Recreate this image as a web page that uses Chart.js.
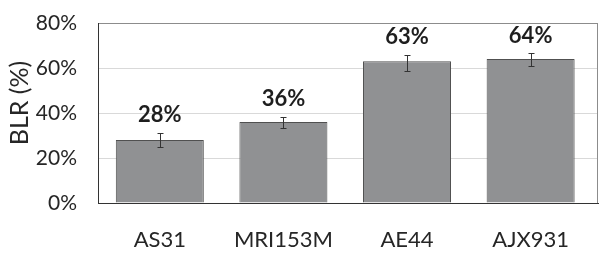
<!DOCTYPE html>
<html>
<head>
<meta charset="utf-8">
<script src="https://cdn.jsdelivr.net/npm/chart.js@4"></script>
<style>
html,body{margin:0;padding:0;background:#fff;}
#wrap{width:610px;height:267px;position:relative;}
</style>
</head>
<body>
<div id="wrap"><canvas id="c" width="610" height="267"></canvas></div>
<script>
const categories = ["AS31", "MRI153M", "AE44", "AJX931"];
const values = [28, 36, 63, 64];
const errLow = [25.0, 33.2, 58.5, 60.7];
const errHigh = [31.2, 38.4, 65.8, 66.6];
const yTicks = [0, 20, 40, 60, 80];
const yTitle = "BLR (%)";

const FONT = "Lato, 'Open Sans', sans-serif";

const errorBarPlugin = {
  id: 'errbars',
  afterDatasetsDraw(chart) {
    const ctx = chart.ctx;
    const xs = chart.scales.x, ys = chart.scales.y;
    ctx.save();
    ctx.strokeStyle = '#333';
    ctx.lineWidth = 1;
    categories.forEach((c, i) => {
      const x = Math.round(xs.getPixelForValue(i)) + 0.5;
      const yh = Math.round(ys.getPixelForValue(errHigh[i])) + 0.5;
      const yl = Math.round(ys.getPixelForValue(errLow[i])) + 0.5;
      ctx.beginPath();
      ctx.moveTo(x, yh); ctx.lineTo(x, yl);
      ctx.moveTo(x - 3, yh); ctx.lineTo(x + 3, yh);
      ctx.moveTo(x - 3, yl); ctx.lineTo(x + 3, yl);
      ctx.stroke();
      ctx.fillStyle = '#1e1e1e';
      ctx.font = "bold 22px " + FONT;
      ctx.textAlign = 'center';
      ctx.textBaseline = 'alphabetic';
      ctx.fillText(values[i] + '%', xs.getPixelForValue(i), ys.getPixelForValue(errHigh[i]) - 10.5);
    });
    ctx.restore();
  }
};

const frameAndTitlePlugin = {
  id: 'frameTitle',
  afterDraw(chart) {
    const a = chart.chartArea, ctx = chart.ctx;
    ctx.save();
    ctx.strokeStyle = '#8c8c8c';
    ctx.lineWidth = 1;
    ctx.beginPath();
    const x = Math.round(a.right) - 0.5;
    ctx.moveTo(x, a.top);
    ctx.lineTo(x, a.bottom);
    ctx.stroke();
    // y-axis title, placed as in the reference (slightly above the plot centre)
    ctx.translate(20, (a.top + a.bottom) / 2 - 10);
    ctx.rotate(-Math.PI / 2);
    ctx.fillStyle = '#262626';
    ctx.font = "25px " + FONT;
    ctx.textAlign = 'center';
    ctx.textBaseline = 'middle';
    ctx.fillText(yTitle, 0, 0);
    ctx.restore();
  }
};

new Chart(document.getElementById('c'), {
  type: 'bar',
  data: {
    datasets: [{
      data: values.map((v, i) => ({x: i, y: v})),
      backgroundColor: '#909193',
      borderColor: '#505050',
      borderWidth: 1,
      borderSkipped: 'bottom',
      categoryPercentage: 1,
      barPercentage: 0.712
    }]
  },
  options: {
    responsive: false,
    animation: false,
    devicePixelRatio: 1,
    layout: {autoPadding: false, padding: {top: 23, right: 12, bottom: 0, left: 0}},
    plugins: {legend: {display: false}, tooltip: {enabled: false}},
    scales: {
      x: {
        type: 'linear',
        offset: false,
        min: -0.5,
        max: 3.545,
        afterBuildTicks: s => { s.ticks = categories.map((c, i) => ({value: i})); },
        afterFit: s => { s.height = 64; s.paddingLeft = 0; s.paddingRight = 0; },
        grid: {display: false, drawTicks: false, offset: false},
        border: {display: true, color: '#333', width: 1},
        ticks: {
          padding: 24,
          autoSkip: false,
          maxRotation: 0,
          color: '#262626',
          font: {family: FONT, size: 22},
          callback: v => categories[v] !== undefined ? categories[v] : ''
        }
      },
      y: {
        min: 0,
        max: 80,
        afterBuildTicks: s => { s.ticks = yTicks.map(v => ({value: v})); },
        afterFit: s => { s.width = 98; s.paddingTop = 0; s.paddingBottom = 0; },
        grid: {
          drawTicks: false,
          color: ctx => ctx.tick && ctx.tick.value === 80 ? '#8c8c8c' : (ctx.tick && ctx.tick.value === 0 ? 'rgba(0,0,0,0)' : '#d9d9d9'),
          lineWidth: 1
        },
        border: {display: true, color: '#333', width: 1},
        ticks: {
          padding: 21,
          color: '#262626',
          font: {family: FONT, size: 21},
          callback: v => v + '%'
        },
        title: {display: false, text: yTitle}
      }
    }
  },
  plugins: [errorBarPlugin, frameAndTitlePlugin]
});
</script>
</body>
</html>
